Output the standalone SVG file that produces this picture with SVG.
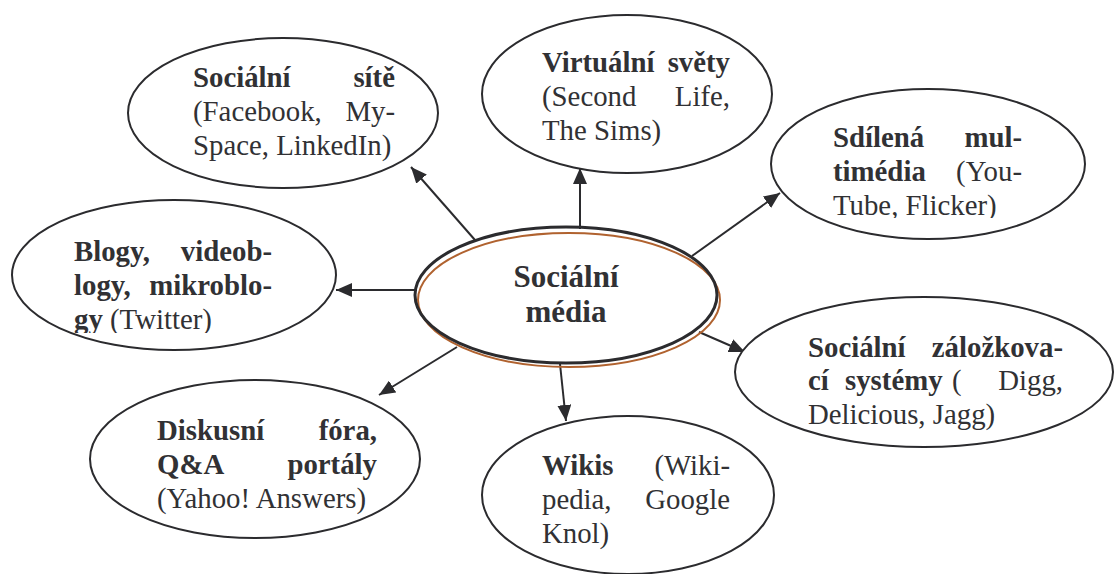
<svg xmlns="http://www.w3.org/2000/svg" width="1114" height="574" viewBox="0 0 1114 574">
<style>
.node{fill:#fff;stroke:#2b2b2e;stroke-width:2}
.t{font-family:"Liberation Serif","Times New Roman",serif;font-size:28.8px;fill:#313134}
.b{font-weight:bold}
.e{text-anchor:end}
.c{text-anchor:middle}
.conn line{stroke:#2b2b2e;stroke-width:2}
</style>
<defs>
<marker id="arr" markerUnits="userSpaceOnUse" markerWidth="18" markerHeight="14" refX="16" refY="7" orient="auto">
<path d="M0,0 L16,7 L0,14 Z" fill="#2b2b2e"/>
</marker>
<clipPath id="clipBlog"><rect x="0" y="200" width="340" height="133"/></clipPath>
<clipPath id="clipSdil"><rect x="770" y="85" width="320" height="133"/></clipPath>
</defs>
<rect width="1114" height="574" fill="#fff"/>

<g id="connectors" class="conn">
<line x1="475" y1="240" x2="411" y2="167" marker-end="url(#arr)"/>
<line x1="417" y1="290" x2="336" y2="290" marker-end="url(#arr)"/>
<line x1="457" y1="347" x2="379" y2="395" marker-end="url(#arr)"/>
<line x1="580" y1="229" x2="580" y2="168" marker-end="url(#arr)"/>
<line x1="692" y1="256" x2="780" y2="193" marker-end="url(#arr)"/>
<line x1="699" y1="332" x2="745" y2="352" marker-end="url(#arr)"/>
<line x1="560" y1="364" x2="566" y2="421" marker-end="url(#arr)"/>
</g>

<g id="socialni-site">
<ellipse class="node" cx="283" cy="113" rx="155" ry="75"/>
<text class="t b" x="193" y="87">Sociální</text>
<text class="t b e" x="395" y="87">sítě</text>
<text class="t" x="193" y="121">(Facebook,</text>
<text class="t e" x="395" y="121">My-</text>
<text class="t" x="193" y="155">Space, LinkedIn)</text>
</g>

<g id="virtualni-svety">
<ellipse class="node" cx="627" cy="94" rx="145" ry="79"/>
<text class="t b" x="542" y="72">Virtuální</text>
<text class="t b e" x="730" y="72">světy</text>
<text class="t" x="542" y="106">(Second</text>
<text class="t e" x="730" y="106">Life,</text>
<text class="t" x="542" y="140">The Sims)</text>
</g>

<g id="sdilena-multimedia">
<ellipse class="node" cx="928" cy="164" rx="157" ry="75"/>
<g clip-path="url(#clipSdil)">
<text class="t b" x="833" y="147">Sdílená</text>
<text class="t b e" x="1022" y="147">mul-</text>
<text class="t b" x="833" y="181">timédia</text>
<text class="t e" x="1022" y="181">(You-</text>
<text class="t" x="833" y="215">Tube, Flicker)</text>
</g>
</g>

<g id="blogy">
<ellipse class="node" cx="174" cy="275" rx="162" ry="75"/>
<g clip-path="url(#clipBlog)">
<text class="t b" x="74" y="261">Blogy,</text>
<text class="t b e" x="272" y="261">videob-</text>
<text class="t b" x="74" y="295">logy,</text>
<text class="t b e" x="272" y="295">mikroblo-</text>
<text class="t" x="74" y="329"><tspan class="b">gy</tspan> (Twitter)</text>
</g>
</g>

<g id="socialni-media">
<ellipse cx="569" cy="300" rx="151" ry="67" fill="none" stroke="#b0622f" stroke-width="2"/>
<ellipse cx="566" cy="295" rx="151" ry="68" fill="none" stroke="#2b2b2e" stroke-width="3"/>
<text class="t b c" x="566" y="287" style="font-size:31px">Sociální</text>
<text class="t b c" x="566" y="322" style="font-size:31px">média</text>
</g>

<g id="zalozkovaci-systemy">
<ellipse class="node" cx="924" cy="372" rx="189" ry="75"/>
<text class="t b" x="808" y="357">Sociální</text>
<text class="t b e" x="1063" y="357">záložkova-</text>
<text class="t b" x="808" y="390">cí</text>
<text class="t b" x="845" y="390">systémy</text>
<text class="t" x="952" y="390">(</text>
<text class="t e" x="1063" y="390">Digg,</text>
<text class="t" x="808" y="424">Delicious, Jagg)</text>
</g>

<g id="wikis">
<ellipse class="node" cx="628" cy="495" rx="146" ry="79"/>
<text class="t b" x="542" y="475">Wikis</text>
<text class="t e" x="730" y="475">(Wiki-</text>
<text class="t" x="542" y="509">pedia,</text>
<text class="t e" x="730" y="509">Google</text>
<text class="t" x="542" y="543">Knol)</text>
</g>

<g id="diskusni-fora">
<ellipse class="node" cx="255" cy="459" rx="165" ry="79"/>
<text class="t b" x="157" y="440">Diskusní</text>
<text class="t b e" x="377" y="440">fóra,</text>
<text class="t b" x="157" y="474">Q&amp;A</text>
<text class="t b e" x="377" y="474">portály</text>
<text class="t" x="157" y="508">(Yahoo! Answers)</text>
</g>
</svg>
